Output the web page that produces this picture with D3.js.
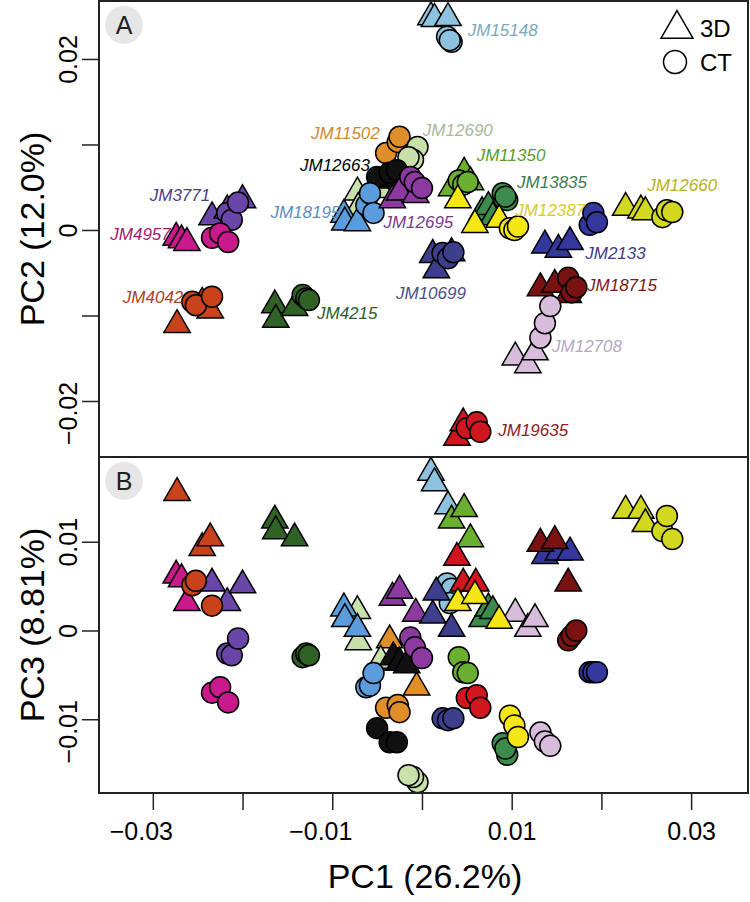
<!DOCTYPE html>
<html><head><meta charset="utf-8">
<script src="https://cdn.jsdelivr.net/npm/d3@7"></script>
<style>body{margin:0;background:#fff}svg{display:block}</style>
</head><body><svg id="chart" width="750" height="902"></svg>
<script>
// ---------- data ----------
const specimens = ["JM15148","JM11502","JM12690","JM12663","JM11350","JM13835","JM12660","JM3771","JM4957","JM18195","JM12695","JM4042","JM4215","JM10699","JM2133","JM18715","JM12708","JM19635","JM12387"];
const fillColors = ["#8DC3DE","#E08E2A","#C8E0AA","#111111","#6AAF30","#3C8A4C","#D2D820","#6A46A8","#C81A8A","#5B9CDC","#8C3AA0","#C8421C","#2F6224","#3D3F8C","#34379C","#7A1212","#D8BCDC","#D0161E","#F5E616"];
const labelColors = ["#7AA8BC","#D08A2A","#A8B89A","#000000","#5E9A2A","#3F7A52","#B8B020","#4E3C86","#A01A70","#5C8CC8","#7A3A8E","#A8432A","#2E5A2C","#4A4E8A","#3A3C86","#7A1A1A","#B8A8C0","#8C2020","#D8CC2A"];

// 3D (triangles)
const triPC1 = [[0.0010,0.0014,0.0029],[-0.0036,-0.0033,-0.0006],[-0.0072,-0.0071,-0.0046],[-0.0032,-0.0025,-0.0017],[0.0033,0.0047,0.0054],[0.0067,0.0074,0.0079],[0.0227,0.0244,0.0249],[-0.0234,-0.0217,-0.0200],[-0.0274,-0.0268,-0.0262],[-0.0087,-0.0086,-0.0072],[-0.0033,-0.0025,-0.0007],[-0.0273,-0.0245,-0.0236],[-0.0164,-0.0163,-0.0142],[0.0012,0.0016,0.0033],[0.0137,0.0152,0.0165],[0.0132,0.0148,0.0163],[0.0104,0.0118,0.0126],[0.0039,0.0046,0.0060],[0.0040,0.0059,0.0086]];
const triPC2 = [[0.0249,0.0247,0.0248],[0.0070,0.0064,0.0053],[0.0044,0.0026,0.0047],[0.0058,0.0061,0.0053],[0.0049,0.0067,0.0056],[0.0021,0.0027,0.0015],[0.0026,0.0023,0.0021],[0.0015,0.0023,0.0035],[-0.0009,-0.0012,-0.0015],[0.0018,0.0009,0.0008],[0.0035,0.0044,0.0041],[-0.0111,-0.0085,-0.0094],[-0.0088,-0.0105,-0.0091],[-0.0029,-0.0047,-0.0027],[-0.0018,-0.0023,-0.0014],[-0.0068,-0.0064,-0.0076],[-0.0149,-0.0158,-0.0143],[-0.0243,-0.0226,-0.0234],[0.0035,0.0006,0.0012]];
const triPC3 = [[0.0178,0.0166,0.0140],[-0.0011,-0.0036,-0.0064],[0.0022,-0.0013,-0.0034],[-0.0030,-0.0036,-0.0039],[0.0124,0.0137,0.0103],[0.0013,0.0025,0.0022],[0.0135,0.0135,0.0120],[0.0053,0.0031,0.0051],[0.0062,0.0058,0.0031],[0.0025,0.0013,0.0002],[0.0037,0.0045,0.0019],[0.0155,0.0093,0.0104],[0.0124,0.0112,0.0104],[0.0017,0.0043,0.0002],[0.0084,0.0088,0.0088],[0.0098,0.0101,0.0053],[0.0019,0.0002,0.0013],[0.0082,0.0053,0.0053],[0.0031,0.0039,0.0011]];
// CT (circles)
const ctPC1 = [[0.0028,0.0033,0.0031],[-0.0040,-0.0027,-0.0025],[-0.0005,-0.0010,-0.0015],[-0.0050,-0.0036,-0.0028],[0.0041,0.0046,0.0051],[0.0090,0.0095,0.0093],[0.0268,0.0273,0.0279],[-0.0217,-0.0212,-0.0205],[-0.0234,-0.0225,-0.0216],[-0.0062,-0.0058,-0.0054],[-0.0013,-0.0008,0.0000],[-0.0256,-0.0252,-0.0234],[-0.0133,-0.0129,-0.0126],[0.0023,0.0029,0.0035],[0.0187,0.0191,0.0195],[0.0163,0.0167,0.0172],[0.0132,0.0137,0.0143],[0.0050,0.0061,0.0065],[0.0098,0.0103,0.0107]];
const ctPC2 = [[0.0226,0.0220,0.0222],[0.0090,0.0103,0.0109],[0.0097,0.0082,0.0085],[0.0062,0.0067,0.0070],[0.0058,0.0053,0.0056],[0.0043,0.0035,0.0039],[0.0015,0.0023,0.0021],[0.0020,0.0012,0.0032],[-0.0009,-0.0004,-0.0014],[0.0029,0.0043,0.0020],[0.0062,0.0056,0.0049],[-0.0084,-0.0088,-0.0078],[-0.0076,-0.0080,-0.0082],[-0.0027,-0.0033,-0.0026],[0.0006,0.0020,0.0009],[-0.0056,-0.0073,-0.0067],[-0.0126,-0.0109,-0.0089],[-0.0232,-0.0225,-0.0236],[0.0002,0.0000,0.0004]];
const ctPC3 = [[0.0053,0.0047,0.0031],[-0.0087,-0.0084,-0.0092],[-0.0171,-0.0165,-0.0163],[-0.0110,-0.0126,-0.0126],[-0.0030,-0.0047,-0.0048],[-0.0127,-0.0140,-0.0133],[0.0112,0.0129,0.0103],[-0.0026,-0.0028,-0.0009],[-0.0070,-0.0064,-0.0081],[-0.0064,-0.0062,-0.0048],[-0.0008,-0.0019,-0.0031],[0.0051,0.0056,0.0028],[-0.0030,-0.0026,-0.0028],[-0.0099,-0.0101,-0.0099],[-0.0047,-0.0047,-0.0047],[-0.0011,-0.0006,0.0000],[-0.0115,-0.0125,-0.0130],[-0.0076,-0.0073,-0.0087],[-0.0096,-0.0107,-0.0120]];

// axis ticks
const xTicks = [-0.03,-0.02,-0.01,0,0.01,0.02,0.03];
const xTickLabels = ["\u22120.03","","\u22120.01","","0.01","","0.03"];
const yATicks = [-0.02,-0.01,0,0.01,0.02];
const yATickLabels = ["\u22120.02","","0","","0.02"];
const yBTicks = [-0.01,0,0.01];
const yBTickLabels = ["\u22120.01","0","0.01"];

// label layout (panel A, data coords)
const labelPC1 = [0.0051,-0.0047,0.0001,-0.0058,0.0061,0.0106,0.0251,-0.0236,-0.0280,-0.0091,-0.0043,-0.0266,-0.0117,0.0010,0.0182,0.0184,0.0145,0.0085,0.0104];
const labelPC2 = [0.0234,0.0113,0.0117,0.0076,0.0088,0.0056,0.0053,0.0041,-0.0005,0.0021,0.0009,-0.0078,-0.0097,-0.0074,-0.0027,-0.0064,-0.0135,-0.0234,0.0023];
const labelAnchor = ["start","end","start","end","start","start","start","end","end","end","start","end","start","middle","start","start","start","start","start"];

// ---------- layout ----------
const svg = d3.select("#chart");
const L = 99, R = 748, A_TOP = 1, A_BOT = 457, B_TOP = 457, B_BOT = 793;
const x = d3.scaleLinear().domain([-0.0360, 0.03634]).range([L, R]);
const yA = d3.scaleLinear().domain([-0.02655, 0.02678]).range([A_BOT, A_TOP]);
const yB = d3.scaleLinear().domain([-0.01831, 0.01955]).range([B_BOT, B_TOP]);
const FONT = "'Liberation Sans', Arial, Helvetica, sans-serif";

const tri = d3.symbol().type(d3.symbolTriangle).size(300);
const CR = 10.5;

function drawPanel(g, yScale, yArrT, yArrC) {
  specimens.forEach((s, i) => {
    const tpts = triPC1[i].map((v, j) => [v, yArrT[i][j]]);
    const cpts = ctPC1[i].map((v, j) => [v, yArrC[i][j]]);
    g.selectAll(null).data(tpts).enter().append("path")
      .attr("d", tri)
      .attr("transform", d => `translate(${x(d[0])},${yScale(d[1])})`)
      .attr("fill", fillColors[i]).attr("stroke", "#000").attr("stroke-width", 1.5)
      .attr("stroke-linejoin", "miter");
    g.selectAll(null).data(cpts).enter().append("circle")
      .attr("cx", d => x(d[0])).attr("cy", d => yScale(d[1])).attr("r", CR)
      .attr("fill", fillColors[i]).attr("stroke", "#000").attr("stroke-width", 1.5);
  });
}

const gA = svg.append("g");
drawPanel(gA, yA, triPC2, ctPC2);
const gB = svg.append("g");
drawPanel(gB, yB, triPC3, ctPC3);

// specimen labels
svg.append("g").selectAll("text").data(specimens).enter().append("text")
  .attr("x", (d, i) => x(labelPC1[i])).attr("y", (d, i) => yA(labelPC2[i]))
  .attr("dy", "0.36em").attr("text-anchor", (d, i) => labelAnchor[i])
  .attr("font-family", FONT).attr("font-style", "italic").attr("font-size", 17)
  .attr("fill", (d, i) => labelColors[i]).text(d => d);

// frames
svg.append("rect").attr("x", L).attr("y", A_TOP).attr("width", R - L).attr("height", A_BOT - A_TOP)
  .attr("fill", "none").attr("stroke", "#222").attr("stroke-width", 2);
svg.append("rect").attr("x", L).attr("y", B_TOP).attr("width", R - L).attr("height", B_BOT - B_TOP)
  .attr("fill", "none").attr("stroke", "#222").attr("stroke-width", 2);

// panel badges
[["A", 25], ["B", 481]].forEach(([t, cy]) => {
  svg.append("circle").attr("cx", 124).attr("cy", cy).attr("r", 19).attr("fill", "#E6E6E6");
  svg.append("text").attr("x", 124).attr("y", cy).attr("dy", "0.36em").attr("text-anchor", "middle")
    .attr("font-family", FONT).attr("font-size", 25).attr("fill", "#222").text(t);
});

// legend
svg.append("path").attr("d", d3.symbol().type(d3.symbolTriangle).size(440))
  .attr("transform", "translate(677,29)").attr("fill", "none").attr("stroke", "#000").attr("stroke-width", 1.5);
svg.append("text").attr("x", 700).attr("y", 28).attr("dy", "0.36em").attr("font-family", FONT)
  .attr("font-size", 24).text("3D");
svg.append("circle").attr("cx", 675).attr("cy", 62).attr("r", 11.5)
  .attr("fill", "none").attr("stroke", "#000").attr("stroke-width", 1.5);
svg.append("text").attr("x", 700).attr("y", 62).attr("dy", "0.36em").attr("font-family", FONT)
  .attr("font-size", 24).text("CT");

// axes
const TK = 17, TF = 25;
const xAxis = d3.axisBottom(x).tickValues(xTicks).tickSize(TK).tickPadding(12)
  .tickFormat((d, i) => xTickLabels[i]);
const gx = svg.append("g").attr("transform", `translate(0,${B_BOT})`).call(xAxis);
gx.select(".domain").remove();
gx.selectAll("line").attr("stroke", "#222").attr("stroke-width", 1.5);
gx.selectAll("text").attr("font-family", FONT).attr("font-size", TF).attr("fill", "#000")
  .attr("dx", (d) => d < 0 ? -12 : 0);

function yAxisRot(scale, ticks, labels) {
  const ax = d3.axisLeft(scale).tickValues(ticks).tickSize(TK).tickFormat((d, i) => labels[i]);
  const g = svg.append("g").attr("transform", `translate(${L},0)`).call(ax);
  g.select(".domain").remove();
  g.selectAll("line").attr("stroke", "#222").attr("stroke-width", 1.5);
  g.selectAll("text").attr("font-family", FONT).attr("font-size", TF).attr("fill", "#000")
    .attr("x", 0).attr("y", -(TK + 5)).attr("dy", 0)
    .attr("transform", "rotate(-90)").attr("text-anchor", "middle")
    .attr("dx", d => d < 0 ? -12 : 0);
}
yAxisRot(yA, yATicks, yATickLabels);
yAxisRot(yB, yBTicks, yBTickLabels);

// axis titles
svg.append("text").attr("x", 425).attr("y", 888).attr("text-anchor", "middle")
  .attr("font-family", FONT).attr("font-size", 34).text("PC1 (26.2%)");
svg.append("text").attr("transform", `translate(44,${(A_TOP + A_BOT) / 2}) rotate(-90)`)
  .attr("text-anchor", "middle").attr("font-family", FONT).attr("font-size", 34).text("PC2 (12.0%)");
svg.append("text").attr("transform", `translate(44,${(B_TOP + B_BOT) / 2}) rotate(-90)`)
  .attr("text-anchor", "middle").attr("font-family", FONT).attr("font-size", 34).text("PC3 (8.81%)");
</script></body></html>
